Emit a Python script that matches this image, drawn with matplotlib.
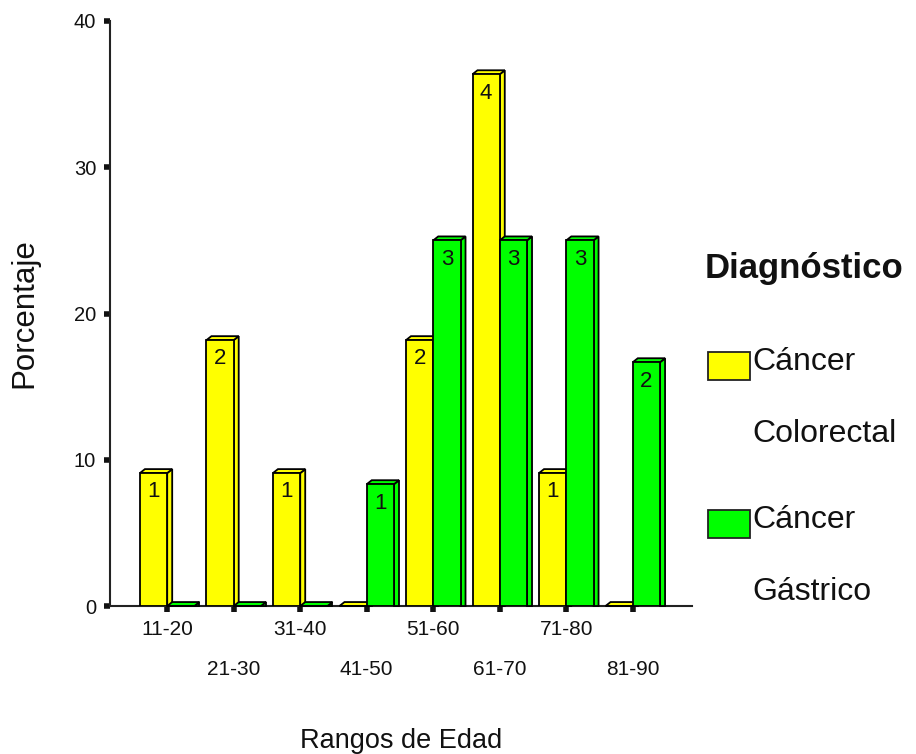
import matplotlib
matplotlib.use("Agg")
import matplotlib.pyplot as plt
from matplotlib.patches import Polygon, Rectangle
from matplotlib.ticker import FixedLocator, FixedFormatter

plt.rcParams['font.family'] = ['Liberation Sans', 'DejaVu Sans']

categories = ["11-20", "21-30", "31-40", "41-50", "51-60", "61-70", "71-80", "81-90"]
colorectal_pct = [9.09, 18.18, 9.09, 0.0, 18.18, 36.36, 9.09, 0.0]
gastric_pct = [0.0, 0.0, 0.0, 8.33, 25.0, 25.0, 25.0, 16.67]
colorectal_n = [1, 2, 1, 0, 2, 4, 1, 0]
gastric_n = [0, 0, 0, 1, 3, 3, 3, 2]
series_names = ["Cáncer\nColorectal", "Cáncer\nGástrico"]
legend_title = "Diagnóstico"
y_ticks = [0, 10, 20, 30, 40]

YELLOW = "#FFFF00"
GREEN = "#00FF00"
EDGE = "#000000"
TXT = "#111111"

fig = plt.figure(figsize=(9.16, 7.54), dpi=100)
ax = fig.add_axes([110/916, 1-606/754, (692-110)/916, (606-21)/754])

x = list(range(len(categories)))
w = 0.41
dx = 0.075   # 3D depth in x (data units)
dy = 0.27    # 3D depth in y (data units)


def bar3d(ax, xs, hs, color, z):
    bars = ax.bar(xs, hs, width=w, align='edge', color=color, edgecolor=EDGE,
                  linewidth=1.3, zorder=z + 0.2)
    for b in bars:
        x0 = b.get_x()
        x1 = x0 + b.get_width()
        h = b.get_height()
        side = Polygon([(x1, 0), (x1 + dx, 0), (x1 + dx, h + dy), (x1, h)],
                       closed=True, facecolor=color, edgecolor=EDGE,
                       linewidth=1.3, zorder=z, clip_on=False)
        top = Polygon([(x0, h), (x0 + dx, h + dy), (x1 + dx, h + dy), (x1, h)],
                      closed=True, facecolor=color, edgecolor=EDGE,
                      linewidth=1.3, zorder=z + 0.1, clip_on=False)
        ax.add_patch(side)
        ax.add_patch(top)
    return bars


yb = bar3d(ax, [xi - w for xi in x], colorectal_pct, YELLOW, 3)
gb = bar3d(ax, x, gastric_pct, GREEN, 4)

for bars, counts in ((yb, colorectal_n), (gb, gastric_n)):
    for b, n in zip(bars, counts):
        if n == 0:
            continue
        ax.annotate(str(n), (b.get_x() + b.get_width() / 2, b.get_height()),
                    xytext=(0, -6), textcoords='offset points',
                    ha='center', va='top', fontsize=16, color=TXT,
                    family=['Liberation Sans Narrow', 'Liberation Sans', 'DejaVu Sans'],
                    zorder=10)

ax.set_xlim(-0.86, 7.89)
ax.set_ylim(0, 40)

# alternate tick labels: even indices on the first row, odd on second row
ax.xaxis.set_major_locator(FixedLocator(x[0::2]))
ax.xaxis.set_major_formatter(FixedFormatter(categories[0::2]))
ax.xaxis.set_minor_locator(FixedLocator(x[1::2]))
ax.xaxis.set_minor_formatter(FixedFormatter(categories[1::2]))
ax.tick_params(axis='x', which='major', length=4, width=4, pad=6,
               labelsize=15, colors=TXT)
ax.tick_params(axis='x', which='minor', length=4, width=4, pad=35,
               labelsize=15, colors=TXT)
ax.set_yticks(y_ticks)
ax.tick_params(axis='y', length=4, width=4, pad=6, labelsize=14.5, colors=TXT)

for s in ('top', 'right'):
    ax.spines[s].set_visible(False)
for s in ('left', 'bottom'):
    ax.spines[s].set_linewidth(1.5)
    ax.spines[s].set_color('#222222')
ax.patch.set_alpha(0)

ax.set_xlabel("Rangos de Edad", fontsize=19.5, color=TXT, labelpad=35)
ax.set_ylabel("Porcentaje", fontsize=22.5, color=TXT, labelpad=25)

# legend (drawn manually to match the layout)
fig.text(705/916, 1-278/754, legend_title, fontsize=25, fontweight='bold',
         color=TXT, ha='left', va='baseline')
legend_rows = [(YELLOW, series_names[0], 352), (GREEN, series_names[1], 510)]
for col, name, ytop in legend_rows:
    fig.patches.append(Rectangle((708/916, 1-(ytop+28)/754), 42/916, 28/754,
                                 transform=fig.transFigure, facecolor=col,
                                 edgecolor='#222222', linewidth=1.3))
    first, second = name.split("\n")
    fig.text(752/916, 1-(ytop+18)/754, first, fontsize=23, color=TXT,
             ha='left', va='baseline')
    fig.text(752/916, 1-(ytop+90)/754, second, fontsize=23, color=TXT,
             ha='left', va='baseline')

fig.savefig("out.png", dpi=100)
